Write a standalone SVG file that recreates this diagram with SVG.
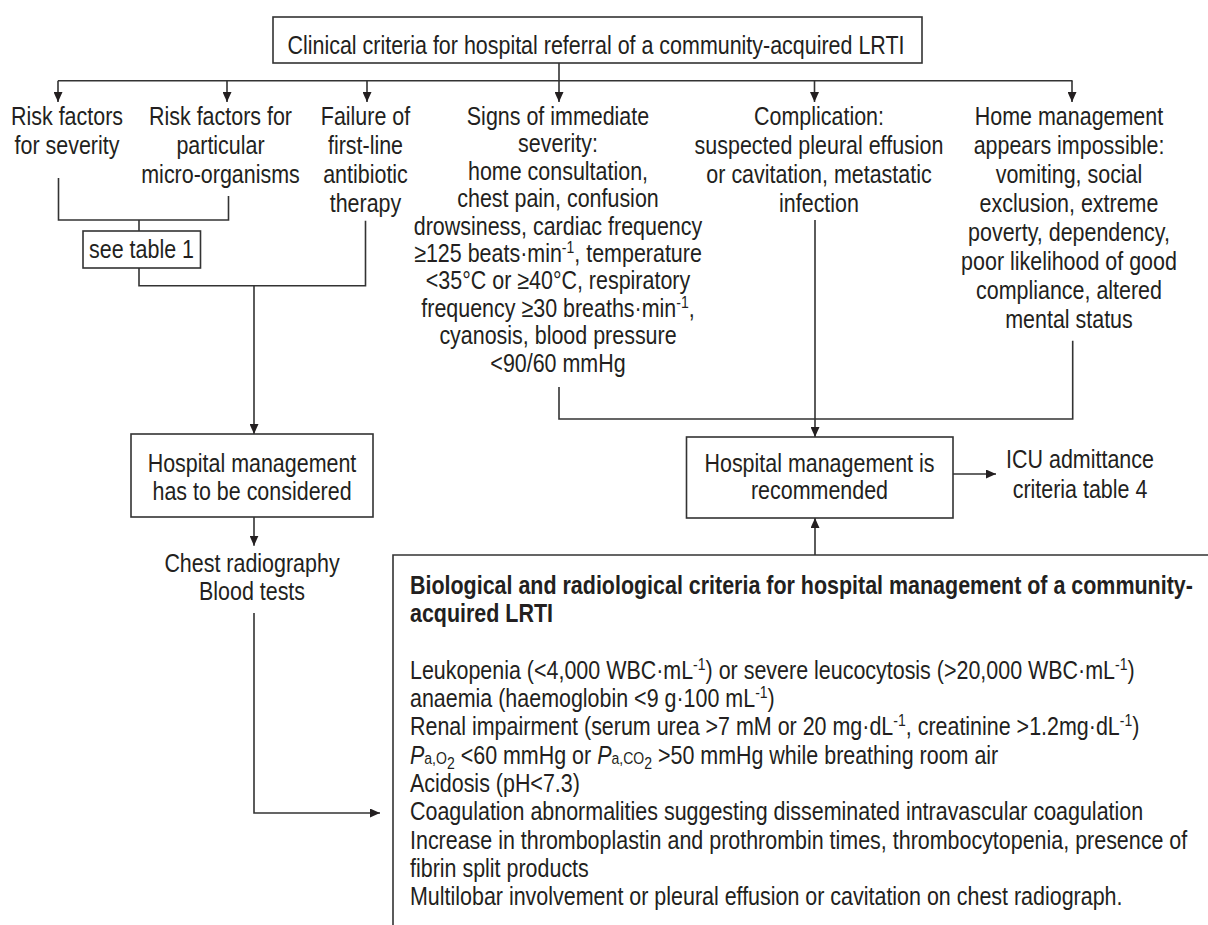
<svg xmlns="http://www.w3.org/2000/svg" width="1208" height="925" viewBox="0 0 1208 925">
<style>
text{font-family:"Liberation Sans",Arial,sans-serif;font-size:26px;fill:#231f20}
.c text{text-anchor:middle}
.b{font-weight:bold}
.sup{font-size:17px}
.sub{font-size:17px}
.box{fill:none;stroke:#333;stroke-width:1.6}
.ln{fill:none;stroke:#333;stroke-width:1.6}
</style>
<defs>
<marker id="ah" markerUnits="userSpaceOnUse" markerWidth="10" markerHeight="9" refX="10" refY="4.5" orient="auto">
<path d="M0,0 L10,4.5 L0,9 z" fill="#231f20"/>
</marker>
</defs>
<rect width="1208" height="925" fill="#fff"/>

<g id="connectors">
<path class="ln" d="M559,63 V102" marker-end="url(#ah)"/>
<path class="ln" d="M58,80.7 H1072.5"/>
<path class="ln" d="M58,80.7 V102" marker-end="url(#ah)"/>
<path class="ln" d="M227,80.7 V102" marker-end="url(#ah)"/>
<path class="ln" d="M367,80.7 V102" marker-end="url(#ah)"/>
<path class="ln" d="M814.5,80.7 V102" marker-end="url(#ah)"/>
<path class="ln" d="M1072,80.7 V102" marker-end="url(#ah)"/>
<path class="ln" d="M58.5,178 V220 H228.5 V196"/>
<path class="ln" d="M139,220 V231"/>
<path class="ln" d="M139,268 V285.7 H365.5 V220.7"/>
<path class="ln" d="M254,285.7 V434" marker-end="url(#ah)"/>
<path class="ln" d="M254,517 V545.7" marker-end="url(#ah)"/>
<path class="ln" d="M254,613 V813 H380" marker-end="url(#ah)"/>
<path class="ln" d="M559,387 V419 H1072.7 V340.7"/>
<path class="ln" d="M815,220 V437" marker-end="url(#ah)"/>
<path class="ln" d="M953,474 H996" marker-end="url(#ah)"/>
<path class="ln" d="M815,555 V518" marker-end="url(#ah)"/>
</g>

<g id="title">
<rect class="box" x="273" y="17" width="649" height="46"/>
<g class="c" transform="translate(596,0) scale(0.825 1)"><text x="0" y="54">Clinical criteria for hospital referral of a community-acquired LRTI</text></g>
</g>

<g id="risk-severity" class="c" transform="translate(67,0) scale(0.825 1)">
<text x="0" y="125.5">Risk factors</text>
<text x="0" y="154.5">for severity</text>
</g>

<g id="risk-micro" class="c" transform="translate(220.5,0) scale(0.825 1)">
<text x="0" y="125.5">Risk factors for</text>
<text x="0" y="154.5">particular</text>
<text x="0" y="183.5">micro-organisms</text>
</g>

<g id="failure" class="c" transform="translate(365.5,0) scale(0.825 1)">
<text x="0" y="125.5">Failure of</text>
<text x="0" y="154.5">first-line</text>
<text x="0" y="183.5">antibiotic</text>
<text x="0" y="212.5">therapy</text>
</g>

<g id="signs" class="c" transform="translate(558,0) scale(0.825 1)">
<text x="0" y="125">Signs of immediate</text>
<text x="0" y="152.4">severity:</text>
<text x="0" y="179.8">home consultation,</text>
<text x="0" y="207.2">chest pain, confusion</text>
<text x="0" y="234.6">drowsiness, cardiac frequency</text>
<text x="0" y="262">≥125 beats·min<tspan class="sup" dy="-9">-1</tspan><tspan dy="9">, temperature</tspan></text>
<text x="0" y="289.4">&lt;35°C or ≥40°C, respiratory</text>
<text x="0" y="316.8">frequency ≥30 breaths·min<tspan class="sup" dy="-9">-1</tspan><tspan dy="9">,</tspan></text>
<text x="0" y="344.2">cyanosis, blood pressure</text>
<text x="0" y="371.6">&lt;90/60 mmHg</text>
</g>

<g id="complication" class="c" transform="translate(819,0) scale(0.825 1)">
<text x="0" y="125.5">Complication:</text>
<text x="0" y="154.5">suspected pleural effusion</text>
<text x="0" y="183.5">or cavitation, metastatic</text>
<text x="0" y="212.5">infection</text>
</g>

<g id="home" class="c" transform="translate(1069,0) scale(0.825 1)">
<text x="0" y="125.5">Home management</text>
<text x="0" y="154.5">appears impossible:</text>
<text x="0" y="183.5">vomiting, social</text>
<text x="0" y="212.5">exclusion, extreme</text>
<text x="0" y="241.5">poverty, dependency,</text>
<text x="0" y="270.5">poor likelihood of good</text>
<text x="0" y="299.5">compliance, altered</text>
<text x="0" y="328.5">mental status</text>
</g>

<g id="see-table">
<rect class="box" x="83" y="231" width="117.5" height="37"/>
<g class="c" transform="translate(141.5,0) scale(0.825 1)"><text x="0" y="258">see table 1</text></g>
</g>

<g id="hosp-considered">
<rect class="box" x="131" y="434" width="242" height="83"/>
<g class="c" transform="translate(252,0) scale(0.825 1)">
<text x="0" y="471.7">Hospital management</text>
<text x="0" y="500">has to be considered</text>
</g>
</g>

<g id="chest" class="c" transform="translate(252,0) scale(0.825 1)">
<text x="0" y="571.7">Chest radiography</text>
<text x="0" y="600">Blood tests</text>
</g>

<g id="hosp-recommended">
<rect class="box" x="686.5" y="437" width="266.5" height="81"/>
<g class="c" transform="translate(819.5,0) scale(0.825 1)">
<text x="0" y="471.7">Hospital management is</text>
<text x="0" y="499.5">recommended</text>
</g>
</g>

<g id="icu" class="c" transform="translate(1080,0) scale(0.825 1)">
<text x="0" y="468">ICU admittance</text>
<text x="0" y="498">criteria table 4</text>
</g>

<g id="bio-criteria">
<path class="box" d="M393,925 V555 H1208"/>
<g transform="translate(410,0) scale(0.825 1)">
<text class="b" x="0" y="594">Biological and radiological criteria for hospital management of a community-</text>
<text class="b" x="0" y="622">acquired LRTI</text>
<text x="0" y="679">Leukopenia (&lt;4,000 WBC·mL<tspan class="sup" dy="-9">-1</tspan><tspan dy="9">) or severe leucocytosis (&gt;20,000 WBC·mL</tspan><tspan class="sup" dy="-9">-1</tspan><tspan dy="9">)</tspan></text>
<text x="0" y="707">anaemia (haemoglobin &lt;9 g·100 mL<tspan class="sup" dy="-9">-1</tspan><tspan dy="9">)</tspan></text>
<text x="0" y="735.5">Renal impairment (serum urea &gt;7 mM or 20 mg·dL<tspan class="sup" dy="-9">-1</tspan><tspan dy="9">, creatinine &gt;1.2mg·dL</tspan><tspan class="sup" dy="-9">-1</tspan><tspan dy="9">)</tspan></text>
<text x="0" y="764"><tspan font-style="italic">P</tspan><tspan class="sub">a,O</tspan><tspan class="sub" dy="5">2</tspan><tspan dy="-5"> &lt;60 mmHg or </tspan><tspan font-style="italic">P</tspan><tspan class="sub">a,CO</tspan><tspan class="sub" dy="5">2</tspan><tspan dy="-5"> &gt;50 mmHg while breathing room air</tspan></text>
<text x="0" y="792">Acidosis (pH&lt;7.3)</text>
<text x="0" y="820.5">Coagulation abnormalities suggesting disseminated intravascular coagulation</text>
<text x="0" y="849">Increase in thromboplastin and prothrombin times, thrombocytopenia, presence of</text>
<text x="0" y="877">fibrin split products</text>
<text x="0" y="905">Multilobar involvement or pleural effusion or cavitation on chest radiograph.</text>
</g>
</g>
</svg>
